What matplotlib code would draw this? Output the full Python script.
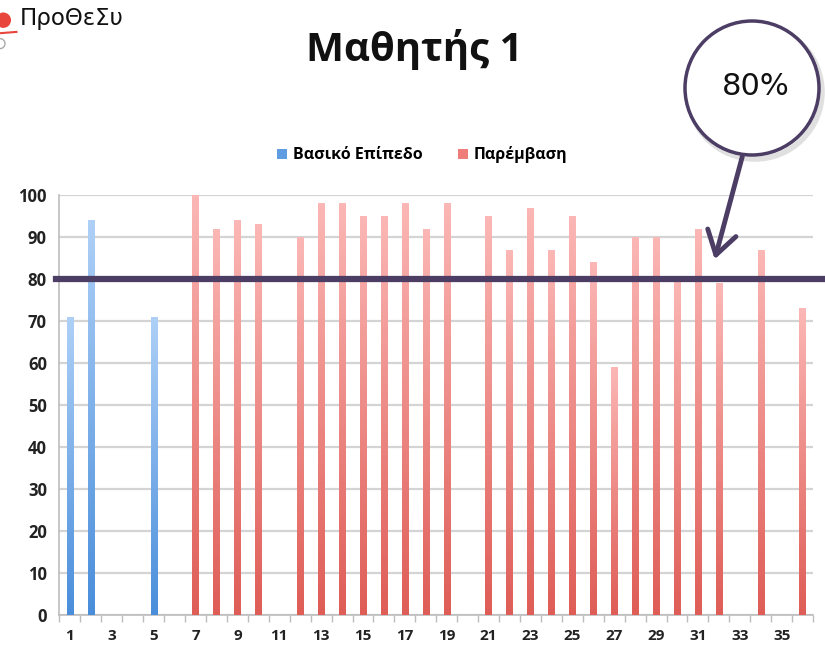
import numpy as np
import matplotlib
matplotlib.use('Agg')
import matplotlib.pyplot as plt
from matplotlib.colors import LinearSegmentedColormap
from matplotlib.patches import Ellipse, FancyArrowPatch, Patch
import matplotlib.transforms as mtransforms

plt.rcParams['font.family'] = ['Open Sans', 'DejaVu Sans']

sessions = list(range(1, 37))
baseline_x = [1, 2, 5]
baseline_y = [71, 94, 71]
interv_x = [7, 8, 9, 10, 12, 13, 14, 15, 16, 17, 18, 19, 21, 22, 23, 24, 25,
            26, 27, 28, 29, 30, 31, 32, 34, 36]
interv_y = [100, 92, 94, 93, 90, 98, 98, 95, 95, 98, 92, 98, 95, 87, 97, 87, 95,
            84, 59, 90, 90, 80, 92, 79, 87, 73]
target = 80
xtick_labels = [str(s) for s in range(1, 36, 2)]

W, H = 825, 651
fig = plt.figure(figsize=(W / 100, H / 100), dpi=100)
ax = fig.add_axes([0.0721, 0.0553, 0.9134, 0.6452])

blue_cmap = LinearSegmentedColormap.from_list('b', ['#4a8edb', '#aed0f7'])
red_cmap = LinearSegmentedColormap.from_list('r', ['#df5d57', '#fbb7b5'])
grad = np.linspace(0, 1, 100).reshape(-1, 1)


def gradient_bars(xs, ys, cmap):
    bars = ax.bar(xs, ys, width=0.3, facecolor='none', edgecolor='none', zorder=3)
    for rect in bars:
        x0, y0 = rect.get_x(), rect.get_y()
        x1, y1 = x0 + rect.get_width(), y0 + rect.get_height()
        im = ax.imshow(grad, extent=[x0, x1, y0, y1], origin='lower', cmap=cmap,
                       aspect='auto', zorder=3, interpolation='bicubic')
        im.set_clip_path(rect)


gradient_bars(baseline_x, baseline_y, blue_cmap)
gradient_bars(interv_x, interv_y, red_cmap)

ax.set_xlim(0.5, 36.5)
ax.set_ylim(0, 100)
ax.set_yticks(range(0, 101, 10))
ax.set_xticks(range(1, 36, 2))
ax.set_xticklabels(xtick_labels)
ax.set_xticks(np.arange(0.5, 37, 1), minor=True)
ax.yaxis.grid(True, color='#d4d4d4', lw=1.6, zorder=0)
ax.set_axisbelow(True)
for s in ['top', 'right']:
    ax.spines[s].set_visible(False)
ax.spines['left'].set_color('#bdbdbd')
ax.spines['bottom'].set_color('#bdbdbd')
ax.spines['left'].set_linewidth(1.2)
ax.spines['bottom'].set_linewidth(1.2)
ax.tick_params(axis='y', length=0, pad=9, labelsize=12)
ax.tick_params(axis='x', which='major', length=0, pad=10, labelsize=11)
ax.tick_params(axis='x', which='minor', length=5, color='#bdbdbd', width=1)
for lab in ax.get_xticklabels() + ax.get_yticklabels():
    lab.set_fontweight('bold')
    lab.set_color('#222222')

# target line across the full width
trans = mtransforms.blended_transform_factory(ax.transAxes, ax.transData)
ax.plot([-0.005, 1.02], [target, target], transform=trans, color='#4b3d63',
        lw=4.5, clip_on=False, zorder=5)

# legend
handles = [Patch(facecolor='#5e9de2', label='Βασικό Επίπεδο'),
           Patch(facecolor='#ef7d7a', label='Παρέμβαση')]
leg = fig.legend(handles=handles, loc='center', bbox_to_anchor=(0.512, 0.762),
                 ncol=2, frameon=False, handlelength=0.6, handleheight=0.6,
                 handletextpad=0.4, columnspacing=2.2,
                 prop={'weight': 'bold', 'size': 11.5})

# title
fig.text(0.502, 0.924, 'Μαθητής 1', ha='center', va='center', fontsize=29,
         fontweight='bold', color='#111111')

# header
fig.text(0.024, 0.972, 'ΠροΘεΣυ', ha='left', va='center', fontsize=16.5,
         family=['DejaVu Sans'], color='#111111')
fig.patches.append(Ellipse((0.004, 0.969), 14 / W, 14 / H, transform=fig.transFigure,
                           color='#e8453c'))
fig.lines.append(plt.Line2D([0.0, 0.02], [0.949, 0.951], transform=fig.transFigure,
                            color='#e8453c', lw=1.5))
fig.patches.append(Ellipse((0.0, 0.933), 10 / W, 10 / H, transform=fig.transFigure,
                           fill=False, ec='#aaaaaa', lw=1))

# callout circle with arrow
cx, cy, r = 752 / W, 1 - 88 / H, 67
shadow = Ellipse((cx + 3 / W, cy - 4 / H), 2 * r / W, 2 * r / H,
                 transform=fig.transFigure, facecolor='none', ec='#cccccc',
                 lw=4, alpha=0.6)
fig.patches.append(shadow)
circ = Ellipse((cx, cy), 2 * r / W, 2 * r / H, transform=fig.transFigure,
               facecolor='white', ec='#4b3d63', lw=2.5)
fig.patches.append(circ)
fig.text(cx + 0.004, cy + 0.002, '80%', ha='center', va='center', fontsize=22,
         color='#111111', family=['DejaVu Sans'])
arrow = FancyArrowPatch((743 / W, 1 - 154 / H), (714 / W, 1 - 262 / H),
                        transform=fig.transFigure,
                        arrowstyle='->,head_length=1.1,head_width=0.7',
                        color='#4b3d63', lw=3.5, mutation_scale=15)
fig.patches.append(arrow)

fig.savefig('out.png', dpi=100)
